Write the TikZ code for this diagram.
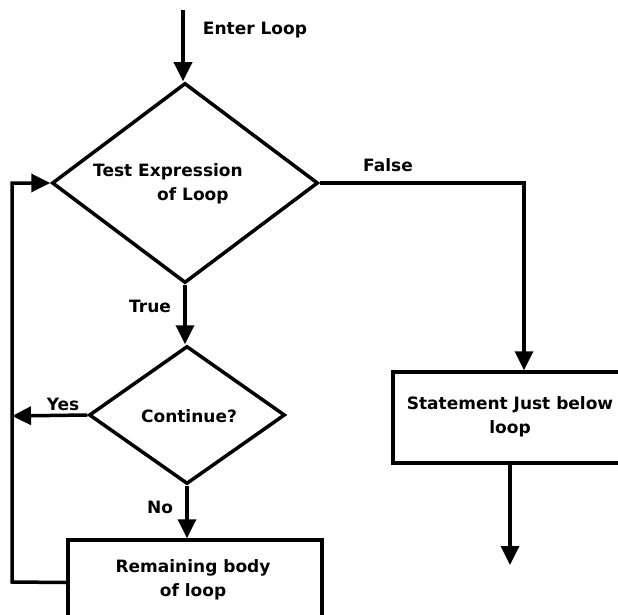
\documentclass[tikz,border=0pt]{standalone}
\usepackage{fontspec}
\setmainfont{DejaVu Sans}
\usetikzlibrary{arrows.meta,shapes.geometric}

\begin{document}
\begin{tikzpicture}[x=1pt,y=-1pt,
  line width=3.5pt,
  flow/.style={-{Triangle[width=18pt,length=19pt]}},
  txt/.style={font=\fontsize{17}{24}\selectfont\bfseries, inner sep=0pt, align=center},
  decision/.style={diamond, draw, inner sep=0pt, minimum width=#1},
  block/.style={rectangle, draw, inner sep=0pt}
]
\useasboundingbox (0,0) rectangle (618,615);
\clip (0,0) rectangle (618,615);

% decisions
\node[decision=266, minimum height=200] (test) at (185,183) {};
\node[txt, align=left] (testtext) at (168,184) {Test Expression\\\hspace*{64pt}of Loop};
\node[decision=196, minimum height=138] (cont) at (187,415) {};
\node[txt] (conttext) at (189,416) {Continue?};

% process boxes
\node[block, minimum width=254, minimum height=85] (body) at (195,582.5) {};
\node[txt] (bodytext) at (193,580) {Remaining body\\of loop};
\node[block, minimum width=234, minimum height=91] (after) at (510,417.5) {};
\node[txt] (aftertext) at (510,417) {Statement Just below\\loop};

% labels
\node[txt] (lenter) at (255,30) {Enter Loop};
\node[txt] (lfalse) at (388,165) {False};
\node[txt] (ltrue) at (150,306) {True};
\node[txt] (lyes) at (63,404) {Yes};
\node[txt] (lno) at (160,507) {No};

% helper points
\coordinate (start) at (183,10);
\coordinate (fcorner) at (524,183);
\coordinate (lbot) at (12,582);
\coordinate (ltop) at (12,183);
\coordinate (ymid) at (12,416);
\coordinate (exit) at (510,565);

% connectors
\draw[flow] (start) -- (start |- test.north);
\draw[flow] (test.south) -- (test.south |- cont.north);
\draw[flow] (cont.south) -- (body.north -| cont.south);
\draw[flow] (cont.west) -- (ymid);
\draw[flow] (test.east) -- (fcorner) -- (fcorner |- after.north);
\draw[flow] (body.west) -- (lbot) -- (ltop) -- (test.west);
\draw[flow] (after.south) -- (exit);
\end{tikzpicture}
\end{document}
